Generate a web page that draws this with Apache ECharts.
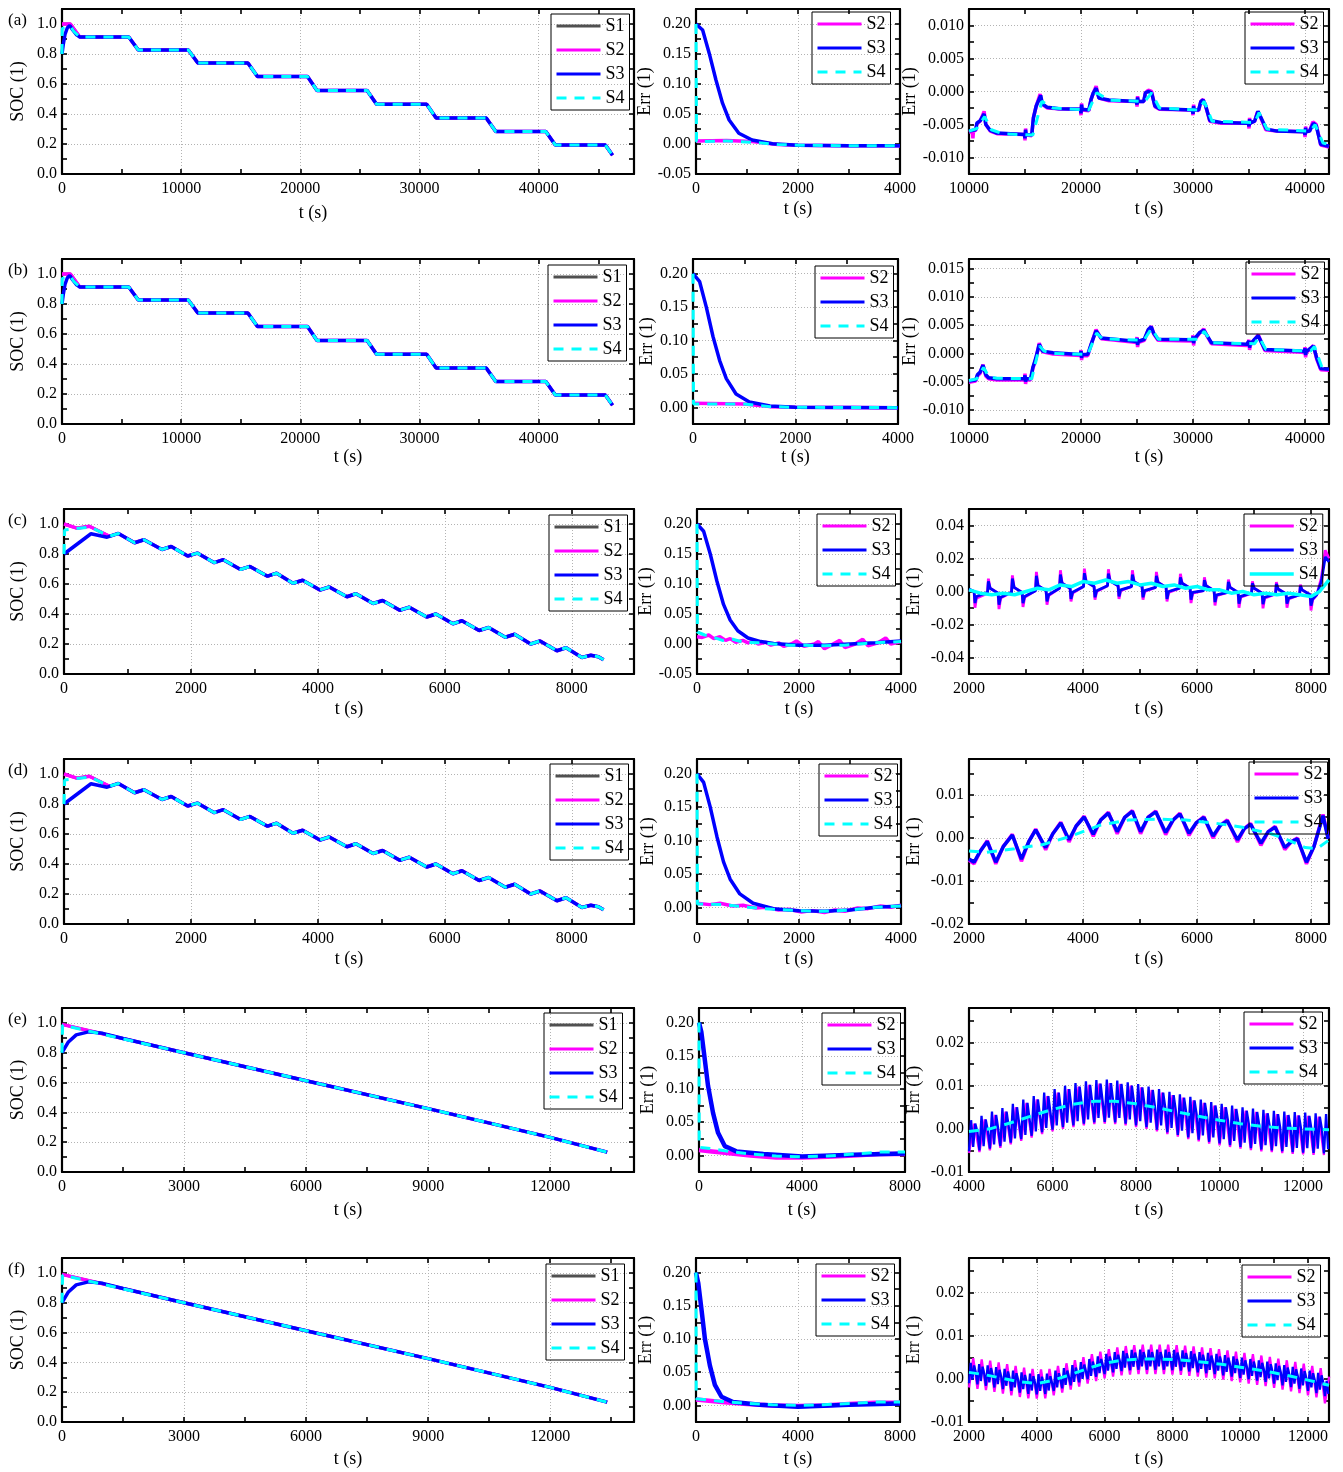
<!DOCTYPE html>
<html lang="en">
<head>
<meta charset="UTF-8">
<title>SOC estimation results</title>
<script src="https://cdn.jsdelivr.net/npm/echarts@6/dist/echarts.min.js"></script>
<style>
  html, body { margin: 0; padding: 0; background: #fff; }
  #chart { width: 1343px; height: 1472px; }
</style>
</head>
<body>
<div id="chart"></div>
<script>
// ---------- SOC (left column) ----------
// staircase profile, rows (a) and (b)
const socAB = [[0,1.0],[700,1.0],[1500,0.913],[5600,0.913],[6400,0.827],[10600,0.827],[11400,0.74],[15600,0.74],[16400,0.65],[20600,0.65],[21400,0.557],[25600,0.557],[26400,0.465],[30600,0.465],[31400,0.373],[35600,0.373],[36400,0.283],[40600,0.283],[41400,0.193],[45600,0.193],[46200,0.125]];
const soc3StartAB = [[0,0.8],[100,0.86],[250,0.93],[450,0.975],[650,0.99],[900,0.96],[1200,0.93],[1500,0.913]];
const soc4StartAB = [[0,0.8],[15,0.97],[300,0.975],[700,0.985],[1000,0.95],[1500,0.913]];
// zig-zag profile, rows (c) and (d)
const socCD = [[0,1.0],[200,0.972],[400,0.985],[717,0.918],[857,0.937],[1111,0.875],[1260,0.895],[1543,0.83],[1690,0.85],[1949,0.787],[2100,0.806],[2368,0.742],[2510,0.762],[2781,0.697],[2930,0.717],[3206,0.652],[3350,0.672],[3606,0.605],[3760,0.625],[4032,0.56],[4180,0.58],[4457,0.515],[4600,0.535],[4870,0.47],[5020,0.49],[5289,0.425],[5440,0.445],[5714,0.38],[5860,0.4],[6127,0.335],[6270,0.355],[6540,0.29],[6690,0.31],[6952,0.245],[7100,0.265],[7352,0.2],[7500,0.22],[7765,0.155],[7910,0.175],[8159,0.11],[8300,0.125],[8420,0.115],[8500,0.095]];
const soc3StartCD = [[0,0.8],[425,0.935],[680,0.912],[857,0.937]];
const soc4StartCD = [[0,0.8],[10,0.96],[413,0.98],[717,0.918]];
// constant discharge, rows (e) and (f)
const socEF = [[0,0.99],[3000,0.8],[6000,0.612],[9000,0.425],[12000,0.232],[13400,0.133]];
const soc3StartEF = [[0,0.8],[150,0.87],[350,0.92],[650,0.94],[1000,0.93],[1500,0.895]];
const soc4StartEF = [[0,0.8],[15,0.985]];

// ---------- Err, first 4000 / 8000 s (middle column) ----------
const errMidA2 = [[0,0.005],[600,0.006],[1100,0.004],[1600,-0.001],[2000,-0.002],[3000,-0.003],[4000,-0.003]];
const errMidA3 = [[0,0.2],[130,0.19],[260,0.151],[390,0.107],[520,0.068],[650,0.04],[840,0.018],[1100,0.0067],[1500,0.0005],[2000,-0.002],[3000,-0.003],[4000,-0.003]];
const errMidA4 = [[0,0.2],[10,0.004],[600,0.005],[1100,0.003],[1600,-0.001],[2000,-0.002],[3000,-0.003],[4000,-0.003]];
const errMidB2 = [[0,0.006],[1000,0.005],[1500,0.001],[2000,0.0],[4000,-0.0005]];
const errMidB3 = [[0,0.2],[130,0.188],[260,0.15],[390,0.106],[520,0.07],[650,0.043],[840,0.02],[1100,0.008],[1500,0.002],[2000,0.0],[4000,-0.0005]];
const errMidB4 = [[0,0.2],[10,0.005],[1000,0.005],[1500,0.001],[2000,0.0],[4000,-0.0005]];
const errMidC2 = [[0,0.012],[100,0.011],[230,0.015],[330,0.009],[450,0.012],[560,0.006],[650,0.009],[760,0.003],[900,0.006],[1000,0.002],[1100,0.005],[1200,0.0],[1350,0.003],[1450,-0.002],[1600,0.002],[1700,-0.004],[1850,0.0],[1950,0.005],[2100,-0.004],[2300,0.0],[2380,0.004],[2500,-0.008],[2650,-0.001],[2800,0.006],[2900,-0.006],[3100,0.0],[3250,0.008],[3350,-0.003],[3550,0.002],[3700,0.01],[3800,0.0],[4000,0.004]];
const errMidC3 = [[0,0.2],[130,0.188],[260,0.15],[390,0.105],[520,0.066],[650,0.04],[800,0.022],[1000,0.01],[1250,0.004],[1500,0.001],[2000,-0.002],[2500,-0.002],[3000,0.0],[3500,0.002],[4000,0.005]];
const errMidC4 = [[0,0.2],[8,0.02],[150,0.015],[300,0.012],[500,0.006],[700,0.008],[900,0.003],[1200,0.002],[1500,0.0],[1800,-0.002],[2100,-0.002],[2500,-0.003],[2900,-0.002],[3300,0.001],[3700,0.003],[4000,0.004]];
const errMidD2 = [[0,0.006],[250,0.004],[450,0.006],[700,0.002],[900,0.003],[1150,-0.001],[1350,0.0],[1600,-0.004],[1800,-0.003],[2050,-0.007],[2250,-0.005],[2500,-0.008],[2700,-0.004],[2900,-0.006],[3150,-0.001],[3350,-0.002],[3600,0.002],[3800,0.0],[4000,0.003]];
const errMidD3 = [[0,0.2],[130,0.187],[260,0.15],[390,0.106],[520,0.068],[650,0.042],[840,0.02],[1100,0.006],[1500,-0.002],[2000,-0.005],[2500,-0.006],[3000,-0.004],[3500,0.0],[4000,0.002]];
const errMidD4 = [[0,0.2],[8,0.005],[500,0.004],[1000,0.0],[1500,-0.003],[2000,-0.005],[2500,-0.006],[3000,-0.004],[3500,0.0],[4000,0.002]];
const errMidE2 = [[0,0.008],[500,0.006],[1000,0.004],[2000,0.0],[3000,-0.003],[4000,-0.003],[5000,-0.002],[6000,0.0],[7000,0.002],[8000,0.002]];
const errMidE3 = [[0,0.2],[90,0.186],[220,0.146],[350,0.105],[545,0.064],[740,0.034],[1000,0.014],[1450,0.006],[2500,0.002],[4000,-0.0015],[6000,0.001],[8000,0.003]];
const errMidE4 = [[0,0.2],[8,0.012],[500,0.01],[1000,0.007],[2000,0.002],[3000,-0.001],[4000,-0.002],[5000,-0.001],[6000,0.002],[7000,0.005],[8000,0.005]];
const errMidF2 = [[0,0.009],[1000,0.005],[2000,0.002],[3000,0.0],[4000,-0.001],[5000,0.0],[6000,0.002],[7000,0.004],[8000,0.004]];
const errMidF3 = [[0,0.2],[90,0.184],[220,0.143],[350,0.1],[545,0.06],[740,0.031],[1000,0.013],[1450,0.005],[2500,0.001],[4000,-0.002],[6000,0.001],[8000,0.003]];
const errMidF4 = [[0,0.2],[8,0.01],[1000,0.006],[2000,0.003],[3000,0.001],[4000,0.0],[5000,0.001],[6000,0.003],[7000,0.005],[8000,0.005]];

// ---------- Err, long run (right column) ----------
const errRightA2 = [[10000,-0.0062],[10300,-0.006],[10350,-0.0071],[10400,-0.006],[10600,-0.0059],[10700,-0.0049],[11000,-0.0045],[11350,-0.003],[11500,-0.005],[11900,-0.006],[12500,-0.0064],[14950,-0.0065],[15000,-0.0074],[15050,-0.0056],[15100,-0.0066],[15600,-0.0067],[15750,-0.004],[16000,-0.0022],[16350,-0.0004],[16500,-0.0019],[17000,-0.0025],[18000,-0.0026],[19950,-0.0027],[20000,-0.0036],[20050,-0.0018],[20100,-0.0028],[20700,-0.0029],[20900,-0.0012],[21100,-0.0002],[21350,0.0008],[21600,-0.001],[22500,-0.0014],[24950,-0.0015],[25000,-0.0023],[25050,-0.0007],[25100,-0.0015],[25600,-0.0015],[25750,-0.0002],[26000,0.0002],[26300,0.0],[26600,-0.0023],[27000,-0.0027],[29950,-0.0028],[30000,-0.0036],[30050,-0.002],[30100,-0.0028],[30500,-0.0029],[30700,-0.0015],[30900,-0.0012],[31100,-0.002],[31500,-0.0045],[32500,-0.0048],[34950,-0.0048],[35000,-0.0056],[35050,-0.004],[35100,-0.0048],[35500,-0.0045],[35750,-0.0031],[36000,-0.0038],[36500,-0.0058],[37500,-0.006],[39950,-0.0061],[40000,-0.0069],[40050,-0.0053],[40100,-0.0061],[40400,-0.006],[40700,-0.0046],[41000,-0.005],[41400,-0.0081],[42140,-0.0084]];
const errRightA3 = [[10000,-0.006],[10600,-0.0058],[10700,-0.0048],[11000,-0.0044],[11350,-0.0034],[11500,-0.005],[11900,-0.0059],[12500,-0.0063],[14950,-0.0065],[15000,-0.0071],[15050,-0.0058],[15100,-0.0065],[15600,-0.0066],[15750,-0.004],[16000,-0.0022],[16400,-0.0006],[16550,-0.0019],[17000,-0.0024],[18000,-0.0026],[19950,-0.0027],[20000,-0.0033],[20050,-0.002],[20100,-0.0027],[20700,-0.0028],[20900,-0.0012],[21100,-0.0002],[21350,0.0005],[21600,-0.001],[22500,-0.0013],[24950,-0.0015],[25000,-0.002],[25050,-0.0009],[25100,-0.0015],[25600,-0.0015],[25750,-0.0002],[26000,0.0],[26300,-0.0002],[26600,-0.0022],[27000,-0.0026],[29950,-0.0028],[30000,-0.0034],[30050,-0.0022],[30100,-0.0028],[30500,-0.0028],[30700,-0.0015],[30900,-0.0013],[31100,-0.002],[31500,-0.0044],[32500,-0.0047],[34950,-0.0048],[35000,-0.0053],[35050,-0.0042],[35100,-0.0048],[35500,-0.0045],[35800,-0.003],[36000,-0.0037],[36550,-0.0057],[37500,-0.006],[39950,-0.0061],[40000,-0.0066],[40050,-0.0055],[40100,-0.0061],[40400,-0.006],[40750,-0.0048],[41000,-0.0052],[41400,-0.008],[42140,-0.0083]];
const errRightA4 = [[10000,-0.006],[10700,-0.0056],[11400,-0.0038],[12000,-0.0058],[13000,-0.0064],[15700,-0.0066],[16500,-0.0015],[17500,-0.0025],[20700,-0.0028],[21400,-0.0002],[22500,-0.0013],[25700,-0.0015],[26300,-0.0002],[27000,-0.0025],[30500,-0.0028],[31000,-0.0015],[31700,-0.0045],[35500,-0.0047],[35900,-0.0032],[36600,-0.0057],[40500,-0.006],[40900,-0.005],[41600,-0.0078],[42140,-0.008]];
const errRightB2 = [[10000,-0.0051],[10600,-0.0049],[10750,-0.004],[11000,-0.0035],[11250,-0.002],[11500,-0.004],[11750,-0.0045],[12500,-0.0047],[14950,-0.0047],[15000,-0.0036],[15050,-0.0054],[15100,-0.0047],[15500,-0.0047],[15700,-0.0027],[15970,-0.001],[16270,0.0018],[16570,0.0003],[17500,-0.0001],[19950,-0.0004],[20000,0.0006],[20050,-0.0012],[20100,-0.0004],[20600,-0.0004],[20900,0.0015],[21340,0.0042],[21800,0.0026],[24600,0.002],[24950,0.0019],[25000,0.0029],[25050,0.0011],[25100,0.0019],[25650,0.0023],[26000,0.0041],[26270,0.0048],[26500,0.0034],[26870,0.0023],[29700,0.0022],[29950,0.0022],[30000,0.0032],[30050,0.0014],[30100,0.0023],[30600,0.0036],[30960,0.0043],[31300,0.0029],[31640,0.0017],[34800,0.0014],[34950,0.0014],[35000,0.0024],[35050,0.0006],[35100,0.0014],[35500,0.0024],[35820,0.0033],[36420,0.0005],[39700,0.0002],[39950,0.0001],[40000,0.0011],[40050,-0.0007],[40100,0.0001],[40750,0.0014],[41040,-0.001],[41400,-0.0029],[42140,-0.003]];
const errRightB3 = [[10000,-0.0049],[10600,-0.0047],[10750,-0.0038],[11000,-0.0033],[11250,-0.0021],[11500,-0.0038],[11750,-0.0043],[12500,-0.0045],[14950,-0.0045],[15000,-0.0039],[15050,-0.005],[15100,-0.0045],[15500,-0.0045],[15700,-0.0025],[15970,-0.0008],[16270,0.0016],[16570,0.0004],[17500,0.0001],[19950,-0.0002],[20000,0.0004],[20050,-0.0008],[20100,-0.0002],[20600,-0.0002],[20900,0.0016],[21340,0.004],[21800,0.0027],[24600,0.0022],[24950,0.0021],[25000,0.0027],[25050,0.0015],[25100,0.0021],[25650,0.0025],[26000,0.0042],[26270,0.0047],[26500,0.0035],[26870,0.0025],[29700,0.0024],[29950,0.0024],[30000,0.003],[30050,0.0018],[30100,0.0025],[30600,0.0037],[30960,0.0041],[31300,0.003],[31640,0.0019],[34800,0.0016],[34950,0.0016],[35000,0.0022],[35050,0.001],[35100,0.0016],[35500,0.0025],[35820,0.0031],[36420,0.0007],[39700,0.0004],[39950,0.0003],[40000,0.0009],[40050,-0.0003],[40100,0.0003],[40750,0.0013],[41040,-0.0008],[41400,-0.0027],[42140,-0.0028]];
const errRightB4 = [[10000,-0.0048],[10700,-0.0045],[11300,-0.0025],[11800,-0.0042],[12500,-0.0044],[15600,-0.0045],[16300,0.0013],[16700,0.0004],[17500,0.0],[20600,-0.0002],[21400,0.0036],[21900,0.0026],[25600,0.0023],[26300,0.0044],[26900,0.0025],[30500,0.0025],[31000,0.0039],[31700,0.0019],[35500,0.0017],[35900,0.0029],[36500,0.0007],[40500,0.0004],[40850,0.0012],[41500,-0.0024],[42140,-0.0028]];
const errRightC2 = [[2000,0.001],[2090,0.0],[2105,-0.0098],[2130,-0.004],[2325,-0.001],
  [2340,0.0078],[2370,0.002],[2510,-0.001],[2526,-0.0107],[2555,-0.004],[2746,-0.0005],
  [2761,0.0098],[2791,0.0025],[2931,-0.0005],[2947,-0.0094],[2976,-0.0035],[3167,0.0005],
  [3182,0.0119],[3212,0.0035],[3352,0.0005],[3368,-0.008],[3397,-0.0025],[3588,0.002],
  [3603,0.0129],[3633,0.005],[3773,0.002],[3789,-0.006],[3818,-0.001],[4009,0.003],
  [4024,0.0139],[4054,0.006],[4194,0.003],[4210,-0.005],[4239,0.0],[4430,0.0035],
  [4445,0.0135],[4475,0.0065],[4615,0.0035],[4631,-0.0045],[4660,0.0005],[4851,0.003],
  [4866,0.0129],[4896,0.006],[5036,0.003],[5052,-0.005],[5081,0.0],[5272,0.0025],
  [5287,0.0119],[5317,0.0055],[5457,0.0025],[5473,-0.006],[5502,-0.0005],[5693,0.002],
  [5708,0.0107],[5738,0.005],[5878,0.002],[5894,-0.007],[5923,-0.001],[6114,0.0005],
  [6129,0.0086],[6159,0.0035],[6299,0.0005],[6315,-0.0085],[6344,-0.0025],[6535,-0.0005],
  [6550,0.0072],[6580,0.0025],[6720,-0.0005],[6736,-0.0098],[6765,-0.0035],[6956,-0.001],
  [6971,0.0062],[7001,0.002],[7141,-0.001],[7157,-0.0102],[7186,-0.004],[7377,-0.0015],
  [7392,0.0057],[7422,0.0015],[7562,-0.0015],[7578,-0.0098],[7607,-0.0045],[7798,-0.002],
  [7813,0.0041],[7843,0.001],[7983,-0.002],[7999,-0.0115],[8028,-0.005],[8100,-0.002],
  [8180,0.008],[8250,0.025],[8315,0.02]];
const errRightC3 = [[2000,0.0015],[2090,0.0],[2105,-0.007],[2130,-0.003],[2325,-0.0005],
  [2340,0.0062],[2370,0.002],[2510,-0.001],[2526,-0.008],[2555,-0.0035],[2746,-0.0005],
  [2761,0.0078],[2791,0.0025],[2931,-0.0005],[2947,-0.007],[2976,-0.003],[3167,0.0005],
  [3182,0.0095],[3212,0.0035],[3352,0.0005],[3368,-0.006],[3397,-0.002],[3588,0.002],
  [3603,0.0103],[3633,0.005],[3773,0.002],[3789,-0.0045],[3818,-0.0005],[4009,0.003],
  [4024,0.0111],[4054,0.006],[4194,0.003],[4210,-0.0035],[4239,0.0005],[4430,0.0035],
  [4445,0.0108],[4475,0.0065],[4615,0.0035],[4631,-0.003],[4660,0.001],[4851,0.003],
  [4866,0.0103],[4896,0.006],[5036,0.003],[5052,-0.0035],[5081,0.0005],[5272,0.0025],
  [5287,0.0095],[5317,0.0055],[5457,0.0025],[5473,-0.0045],[5502,0.0],[5693,0.002],
  [5708,0.0086],[5738,0.005],[5878,0.002],[5894,-0.005],[5923,-0.0005],[6114,0.0005],
  [6129,0.0069],[6159,0.0035],[6299,0.0005],[6315,-0.0064],[6344,-0.002],[6535,-0.0005],
  [6550,0.0058],[6580,0.0025],[6720,-0.0005],[6736,-0.0074],[6765,-0.003],[6956,-0.001],
  [6971,0.005],[7001,0.002],[7141,-0.001],[7157,-0.0077],[7186,-0.0035],[7377,-0.0015],
  [7392,0.0046],[7422,0.0015],[7562,-0.0015],[7578,-0.0074],[7607,-0.004],[7798,-0.002],
  [7813,0.0033],[7843,0.001],[7983,-0.002],[7999,-0.0086],[8028,-0.0045],[8100,-0.002],
  [8180,0.006],[8250,0.021],[8315,0.018]];
const errRightC4 = [[2000,0.001],[2200,-0.001],[2400,-0.002],[2600,-0.001],[2800,-0.002],[3000,0.0],[3200,0.002],[3400,0.001],[3600,0.004],[3800,0.003],[4000,0.006],[4200,0.005],[4400,0.007],[4600,0.005],[4800,0.006],[5000,0.004],[5200,0.005],[5400,0.003],[5600,0.004],[5800,0.002],[6000,0.003],[6200,0.001],[6400,0.001],[6600,-0.001],[6800,0.0],[7000,-0.002],[7200,-0.001],[7400,-0.002],[7600,-0.001],[7800,-0.002],[8000,-0.003],[8150,0.0],[8315,0.007]];
const errRightD2 = [[2000,-0.0052],[2090,-0.006],[2200,-0.003],[2320,-0.0006],[2470,-0.006],[2600,-0.002],[2760,0.0009],[2920,-0.0054],[3050,-0.0008],[3170,0.0021],[3345,-0.0027],[3470,0.001],[3610,0.0037],[3755,-0.0009],[3880,0.0028],[4020,0.0051],[4180,0.0004],[4310,0.0042],[4445,0.006],[4600,0.001],[4730,0.0048],[4865,0.0064],[5010,0.001],[5140,0.0048],[5275,0.0063],[5450,0.0008],[5580,0.0042],[5700,0.0058],[5860,0.0006],[5990,0.0036],[6120,0.005],[6280,0.0],[6410,0.003],[6530,0.0042],[6710,-0.0009],[6830,0.0022],[6940,0.0034],[7120,-0.0017],[7250,0.0015],[7370,0.0027],[7540,-0.0027],[7660,-0.0008],[7760,0.0],[7920,-0.006],[8050,-0.002],[8210,0.0055],[8300,0.0]];
const errRightD3 = [[2000,-0.0049],[2090,-0.0056],[2200,-0.003],[2320,-0.0008],[2470,-0.0056],[2600,-0.002],[2760,0.0007],[2920,-0.0049],[3050,-0.0008],[3170,0.0019],[3345,-0.0022],[3470,0.001],[3610,0.0035],[3755,-0.0004],[3880,0.0028],[4020,0.0049],[4180,0.0009],[4310,0.0042],[4445,0.0058],[4600,0.0015],[4730,0.0048],[4865,0.0062],[5010,0.0015],[5140,0.0048],[5275,0.0061],[5450,0.0013],[5580,0.0042],[5700,0.0056],[5860,0.0011],[5990,0.0036],[6120,0.0048],[6280,0.0005],[6410,0.003],[6530,0.004],[6710,-0.0004],[6830,0.0022],[6940,0.0032],[7120,-0.0012],[7250,0.0015],[7370,0.0025],[7540,-0.0022],[7660,-0.0008],[7760,-0.0002],[7920,-0.0056],[8050,-0.002],[8210,0.0052],[8300,-0.0002]];
const errRightD4 = [[2000,-0.003],[2300,-0.0033],[2800,-0.0025],[3300,-0.0015],[3800,0.0005],[4300,0.003],[4800,0.0042],[5300,0.0044],[5800,0.0042],[6300,0.0035],[6800,0.0025],[7300,0.001],[7600,-0.0005],[7900,-0.0022],[8100,-0.0025],[8300,-0.0006]];

// rows (e) and (f): fast pulses, read as samples every 50 s (S3) and 125 s (S2)
const errRightE_t0 = 4000;
const errRightE3 = [
  -0.0052,0.0020,-0.0042,0.0012,-0.0006, -0.0050,0.0030,-0.0040,0.0022,-0.0004, -0.0046,0.0040,-0.0036,0.0032,0.0000,
  -0.0040,0.0048,-0.0030,0.0040,0.0006, -0.0032,0.0058,-0.0022,0.0050,0.0014, -0.0024,0.0068,-0.0014,0.0060,0.0022,
  -0.0016,0.0076,-0.0006,0.0068,0.0030, -0.0008,0.0084,0.0002,0.0076,0.0038, -0.0002,0.0092,0.0008,0.0084,0.0045,
  0.0004,0.0100,0.0014,0.0092,0.0052, 0.0008,0.0106,0.0018,0.0098,0.0057, 0.0012,0.0110,0.0022,0.0102,0.0061,
  0.0015,0.0113,0.0025,0.0105,0.0064, 0.0016,0.0114,0.0026,0.0106,0.0065, 0.0015,0.0112,0.0025,0.0104,0.0064,
  0.0012,0.0108,0.0022,0.0100,0.0062, 0.0008,0.0104,0.0018,0.0096,0.0058, 0.0004,0.0098,0.0014,0.0090,0.0054,
  -0.0002,0.0092,0.0008,0.0084,0.0049, -0.0008,0.0086,0.0002,0.0078,0.0044, -0.0014,0.0080,-0.0004,0.0072,0.0039,
  -0.0020,0.0074,-0.0010,0.0066,0.0034, -0.0025,0.0068,-0.0015,0.0060,0.0029, -0.0030,0.0062,-0.0020,0.0054,0.0024,
  -0.0034,0.0058,-0.0024,0.0050,0.0020, -0.0038,0.0054,-0.0028,0.0046,0.0016, -0.0042,0.0050,-0.0032,0.0042,0.0012,
  -0.0045,0.0047,-0.0035,0.0039,0.0009, -0.0048,0.0044,-0.0038,0.0036,0.0006, -0.0050,0.0042,-0.0040,0.0034,0.0004,
  -0.0052,0.0040,-0.0042,0.0032,0.0002, -0.0054,0.0039,-0.0044,0.0031,0.0001, -0.0055,0.0038,-0.0045,0.0030,0.0000,
  -0.0056,0.0036,-0.0046,0.0028,-0.0001, -0.0057,0.0034,-0.0047];
const errRightE2 = [
  -0.0056,0.0012, -0.0054,0.0022, -0.0050,0.0032, -0.0044,0.0040, -0.0036,0.0050, -0.0028,0.0060, -0.0020,0.0068,
  -0.0012,0.0076, -0.0006,0.0084, 0.0000,0.0092, 0.0004,0.0098, 0.0008,0.0102, 0.0011,0.0105, 0.0012,0.0106,
  0.0011,0.0104, 0.0008,0.0100, 0.0004,0.0096, 0.0000,0.0090, -0.0006,0.0084, -0.0012,0.0078, -0.0018,0.0072,
  -0.0024,0.0066, -0.0029,0.0060, -0.0034,0.0054, -0.0038,0.0050, -0.0042,0.0046, -0.0046,0.0042, -0.0049,0.0039,
  -0.0052,0.0036, -0.0054,0.0034, -0.0056,0.0032, -0.0058,0.0031, -0.0059,0.0030, -0.0060,0.0028, -0.0061];
const errRightE4 = [[4000,-0.0006],[4500,0.0],[5000,0.0014],[5500,0.003],[6000,0.0045],[6500,0.0057],[7000,0.0064],[7500,0.0064],[8000,0.0058],[8500,0.0049],[9000,0.0039],[9500,0.0029],[10000,0.002],[10500,0.0012],[11000,0.0006],[11500,0.0002],[12000,0.0],[12620,-0.0002]];

const errRightF_t0 = 2000;
const errRightF3 = [
  -0.0010,0.0037,-0.0002,0.0031,0.0015, -0.0013,0.0034,-0.0005,0.0028,0.0012, -0.0016,0.0031,-0.0008,0.0025,0.0009,
  -0.0020,0.0027,-0.0012,0.0021,0.0005, -0.0024,0.0023,-0.0016,0.0017,0.0001, -0.0028,0.0019,-0.0020,0.0013,-0.0003,
  -0.0032,0.0015,-0.0024,0.0009,-0.0007, -0.0035,0.0012,-0.0027,0.0006,-0.0010, -0.0036,0.0011,-0.0028,0.0005,-0.0011,
  -0.0035,0.0012,-0.0027,0.0006,-0.0010, -0.0028,0.0019,-0.0020,0.0013,-0.0003, -0.0022,0.0025,-0.0014,0.0019,0.0003,
  -0.0015,0.0032,-0.0007,0.0026,0.0010, -0.0008,0.0039,0.0000,0.0033,0.0017, -0.0001,0.0046,0.0007,0.0040,0.0024,
  0.0005,0.0052,0.0013,0.0046,0.0030, 0.0011,0.0058,0.0019,0.0052,0.0036, 0.0015,0.0062,0.0023,0.0056,0.0040,
  0.0018,0.0065,0.0026,0.0059,0.0043, 0.0020,0.0067,0.0028,0.0061,0.0045, 0.0021,0.0068,0.0029,0.0062,0.0046,
  0.0021,0.0068,0.0029,0.0062,0.0046, 0.0021,0.0068,0.0029,0.0062,0.0046, 0.0021,0.0068,0.0029,0.0062,0.0046,
  0.0020,0.0067,0.0028,0.0061,0.0045, 0.0019,0.0066,0.0027,0.0060,0.0044, 0.0017,0.0064,0.0025,0.0058,0.0042,
  0.0015,0.0062,0.0023,0.0056,0.0040, 0.0013,0.0060,0.0021,0.0054,0.0038, 0.0011,0.0058,0.0019,0.0052,0.0036,
  0.0008,0.0055,0.0016,0.0049,0.0033, 0.0005,0.0052,0.0013,0.0046,0.0030, 0.0002,0.0049,0.0010,0.0043,0.0027,
  -0.0001,0.0046,0.0007,0.0040,0.0024, -0.0004,0.0043,0.0004,0.0037,0.0021, -0.0007,0.0040,0.0001,0.0034,0.0018,
  -0.0011,0.0036,-0.0003,0.0030,0.0014, -0.0015,0.0032,-0.0007,0.0026,0.0010, -0.0019,0.0028,-0.0011,0.0022,0.0006,
  -0.0023,0.0024,-0.0015,0.0018,0.0002, -0.0028,0.0019,-0.0020,0.0013,-0.0003, -0.0033,0.0014,-0.0025,0.0008,-0.0008,
  -0.0040,-0.0005,-0.0035];
const errRightF2 = [
  -0.0020,0.0048, -0.0023,0.0045, -0.0026,0.0042, -0.0030,0.0038, -0.0034,0.0034, -0.0038,0.0030, -0.0042,0.0026,
  -0.0045,0.0023, -0.0046,0.0022, -0.0045,0.0023, -0.0038,0.0030, -0.0032,0.0036, -0.0025,0.0043, -0.0018,0.0050,
  -0.0011,0.0057, -0.0005,0.0063, 0.0001,0.0069, 0.0005,0.0073, 0.0008,0.0076, 0.0010,0.0078, 0.0011,0.0079,
  0.0011,0.0079, 0.0011,0.0079, 0.0011,0.0079, 0.0010,0.0078, 0.0009,0.0077, 0.0007,0.0075, 0.0005,0.0073,
  0.0003,0.0071, 0.0001,0.0069, -0.0002,0.0066, -0.0005,0.0063, -0.0008,0.0060, -0.0011,0.0057, -0.0014,0.0054,
  -0.0017,0.0051, -0.0021,0.0047, -0.0025,0.0043, -0.0029,0.0039, -0.0033,0.0035, -0.0038,0.0030, -0.0043,0.0025,
  -0.0057,0.0005];
const errRightF4 = [[2000,0.0015],[2500,0.0009],[3000,0.0001],[3500,-0.0007],[4000,-0.0011],[4500,-0.0003],[5000,0.001],[5500,0.0024],[6000,0.0036],[6500,0.0043],[7000,0.0046],[7500,0.0046],[8000,0.0045],[8500,0.0042],[9000,0.0038],[9500,0.0033],[10000,0.0027],[10500,0.0021],[11000,0.0014],[11500,0.0006],[12000,-0.0003],[12620,-0.0015]];

// ---------- helpers ----------
const FONT = 'Liberation Serif';
const GRID = '#b3b3b3';

function joinAfter(start, base) {
  const last = start[start.length - 1][0];
  return start.concat(base.filter(p => p[0] > last));
}
function sampled(t0, dt, vals) {
  return vals.map((v, i) => [t0 + i * dt, v]);
}
function isMult(v, s) {
  const r = v / s;
  return Math.abs(r - Math.round(r)) < 1e-6;
}
function fmt(v, dec) {
  if (Math.abs(v) < 1e-9) v = 0;
  return dec ? v.toFixed(dec) : String(Math.round(v));
}

const STYLE = {
  S1: { color: '#505050', width: 3, type: 'solid' },
  S2: { color: '#ff00ff', width: 3.5, type: 'solid' },
  S3: { color: '#0000ff', width: 3.5, type: 'solid' },
  S4: { color: '#00ffff', width: 3, type: [10, 8] }
};

// axes ranges: min, max, tick step, label step, decimals
const xL48 = { min: 0, max: 48000, step: 5000, lab: 10000, dec: 0 };
const xL9 = { min: 0, max: 8980, step: 1000, lab: 2000, dec: 0 };
const xL14 = { min: 0, max: 14060, step: 1500, lab: 3000, dec: 0 };
const xM4 = { min: 0, max: 4000, step: 1000, lab: 2000, dec: 0 };
const xM8 = { min: 0, max: 8000, step: 2000, lab: 4000, dec: 0 };
const xR42 = { min: 10000, max: 42140, step: 5000, lab: 10000, dec: 0 };
const xR83 = { min: 2000, max: 8315, step: 1000, lab: 2000, dec: 0 };
const xRE = { min: 4000, max: 12620, step: 1000, lab: 2000, dec: 0 };
const xRF = { min: 2000, max: 12620, step: 1000, lab: 2000, dec: 0 };
const ySoc = { min: 0, max: 1.1, step: 0.1, lab: 0.2, dec: 1 };
const yM05 = { min: -0.05, max: 0.225, step: 0.025, lab: 0.05, dec: 2 };
const yM025 = { min: -0.025, max: 0.222, step: 0.025, lab: 0.05, dec: 2 };
const yRA = { min: -0.0125, max: 0.0125, step: 0.0025, lab: 0.005, dec: 3 };
const yRB = { min: -0.0125, max: 0.0167, step: 0.0025, lab: 0.005, dec: 3 };
const yRC = { min: -0.05, max: 0.05, step: 0.01, lab: 0.02, dec: 2 };
const yRD = { min: -0.02, max: 0.0184, step: 0.005, lab: 0.01, dec: 2 };
const yREF = { min: -0.01, max: 0.028, step: 0.005, lab: 0.01, dec: 2 };

function socSeries(base, s3, s4) {
  return [
    { name: 'S1', data: base },
    { name: 'S2', data: base },
    { name: 'S3', data: joinAfter(s3, base) },
    { name: 'S4', data: joinAfter(s4, base) }
  ];
}
function errSeries(d2, d3, d4, w, w4, solid4) {
  return [
    { name: 'S2', data: d2, width: w },
    { name: 'S3', data: d3, width: w },
    { name: 'S4', data: d4, width: w4, solid: solid4 }
  ];
}

const panels = [
  { letter: '(a)', box: [62, 9, 572, 165], x: xL48, y: ySoc, yName: 'SOC (1)', xGap: 30, yGap: 35, leg: [551, 14], xShift: 70,
    series: socSeries(socAB, soc3StartAB, soc4StartAB) },
  { box: [696, 9, 204, 165], x: xM4, y: yM05, yName: 'Err (1)', xGap: 26, yGap: 37, leg: [812, 12],
    series: errSeries(errMidA2, errMidA3, errMidA4) },
  { box: [969, 9, 360, 165], x: xR42, y: yRA, yName: 'Err (1)', xGap: 26, yGap: 46, leg: [1245, 12],
    series: errSeries(errRightA2, errRightA3, errRightA4) },

  { letter: '(b)', box: [62, 259, 572, 165], x: xL48, y: ySoc, yName: 'SOC (1)', xGap: 22, yGap: 35, leg: [548, 265],
    series: socSeries(socAB, soc3StartAB, soc4StartAB) },
  { box: [693, 259, 205, 165], x: xM4, y: yM025, yName: 'Err (1)', xGap: 22, yGap: 37, leg: [815, 266],
    series: errSeries(errMidB2, errMidB3, errMidB4) },
  { box: [969, 259, 360, 165], x: xR42, y: yRB, yName: 'Err (1)', xGap: 22, yGap: 46, leg: [1246, 262],
    series: errSeries(errRightB2, errRightB3, errRightB4) },

  { letter: '(c)', box: [64, 509, 570, 165], x: xL9, y: ySoc, yName: 'SOC (1)', xGap: 26, yGap: 37, leg: [549, 515],
    series: socSeries(socCD, soc3StartCD, soc4StartCD) },
  { box: [697, 509, 204, 165], x: xM4, y: yM05, yName: 'Err (1)', xGap: 26, yGap: 40, leg: [817, 514],
    series: errSeries(errMidC2, errMidC3, errMidC4) },
  { box: [969, 509, 360, 165], x: xR83, y: yRC, yName: 'Err (1)', xGap: 26, yGap: 46, leg: [1244, 514],
    series: errSeries(errRightC2, errRightC3, errRightC4, 2.8, 3.5, true) },

  { letter: '(d)', box: [64, 759, 570, 165], x: xL9, y: ySoc, yName: 'SOC (1)', xGap: 26, yGap: 37, leg: [550, 764],
    series: socSeries(socCD, soc3StartCD, soc4StartCD) },
  { box: [697, 759, 204, 165], x: xM4, y: yM025, yName: 'Err (1)', xGap: 26, yGap: 40, leg: [819, 764],
    series: errSeries(errMidD2, errMidD3, errMidD4) },
  { box: [969, 759, 360, 165], x: xR83, y: yRD, yName: 'Err (1)', xGap: 26, yGap: 46, leg: [1249, 762],
    series: errSeries(errRightD2, errRightD3, errRightD4) },

  { letter: '(e)', box: [62, 1008, 572, 164], x: xL14, y: ySoc, yName: 'SOC (1)', xGap: 29, yGap: 35, leg: [544, 1013],
    series: socSeries(socEF, soc3StartEF, soc4StartEF) },
  { box: [699, 1008, 206, 164], x: xM8, y: yM025, yName: 'Err (1)', xGap: 29, yGap: 42, leg: [822, 1013],
    series: errSeries(errMidE2, errMidE3, errMidE4, 4.5) },
  { box: [969, 1008, 360, 164], x: xRE, y: yREF, yName: 'Err (1)', xGap: 29, yGap: 46, leg: [1244, 1012],
    series: errSeries(sampled(errRightE_t0, 125, errRightE2), sampled(errRightE_t0, 50, errRightE3), errRightE4, 2.3) },

  { letter: '(f)', box: [62, 1258, 572, 164], x: xL14, y: ySoc, yName: 'SOC (1)', xGap: 28, yGap: 35, leg: [546, 1264],
    series: socSeries(socEF, soc3StartEF, soc4StartEF) },
  { box: [696, 1258, 204, 164], x: xM8, y: yM025, yName: 'Err (1)', xGap: 28, yGap: 41, leg: [816, 1264],
    series: errSeries(errMidF2, errMidF3, errMidF4, 4.5) },
  { box: [969, 1258, 360, 164], x: xRF, y: yREF, yName: 'Err (1)', xGap: 28, yGap: 46, leg: [1242, 1265],
    series: errSeries(sampled(errRightF_t0, 125, errRightF2), sampled(errRightF_t0, 50, errRightF3), errRightF4, 2.3) }
];

function makeAxis(gi, pos, a, main, name, gap, shift) {
  const firstOn = isMult(a.min, a.lab);
  const clear = 'rgba(0,0,0,0)';
  return {
    type: 'value', gridIndex: gi, position: pos,
    min: a.min, max: a.max, interval: a.step,
    axisLine: { show: true, onZero: false, lineStyle: { color: '#000', width: 2.2 } },
    axisTick: { show: true, inside: true, length: 5, lineStyle: { color: '#000', width: 1.6 } },
    axisLabel: {
      show: main, margin: (pos === 'bottom') ? 7 : 5,
      fontFamily: FONT, fontSize: 16, color: '#000',
      formatter: v => isMult(v, a.lab) ? fmt(v, a.dec) : ''
    },
    splitLine: {
      show: main,
      lineStyle: { color: firstOn ? [GRID, clear] : [clear, GRID], type: [1, 2], width: 1 }
    },
    name: main ? name : '', nameLocation: 'middle', nameGap: gap,
    nameTextStyle: { fontFamily: FONT, fontSize: 18, color: '#000', padding: [0, shift || 0, 0, 0] }
  };
}

const grids = [], xAxes = [], yAxes = [], series = [], legends = [], graphics = [];
panels.forEach((p, i) => {
  grids.push({ left: p.box[0], top: p.box[1], width: p.box[2], height: p.box[3] });
  xAxes.push(makeAxis(i, 'bottom', p.x, true, 't (s)', p.xGap, p.xShift));
  xAxes.push(makeAxis(i, 'top', p.x, false));
  yAxes.push(makeAxis(i, 'left', p.y, true, p.yName, p.yGap));
  yAxes.push(makeAxis(i, 'right', p.y, false));
  p.series.forEach(s => {
    const st = STYLE[s.name];
    series.push({
      type: 'line', name: s.name, xAxisIndex: 2 * i, yAxisIndex: 2 * i,
      data: s.data, symbol: 'none', silent: true,
      lineStyle: { color: st.color, width: s.width || st.width, type: s.solid ? 'solid' : st.type },
      itemStyle: { color: st.color }
    });
  });
  legends.push({
    orient: 'vertical', left: p.leg[0], top: p.leg[1],
    data: p.series.map(s => s.solid ? { name: s.name, lineStyle: { type: 'solid', width: 3.5 } } : s.name),
    itemWidth: 44, itemHeight: 16, itemGap: 6,
    padding: [3, 5, 3, 4],
    borderColor: '#000', borderWidth: 1, borderRadius: 0,
    backgroundColor: 'rgba(0,0,0,0)',
    selectedMode: false,
    itemStyle: { opacity: 0 },
    lineStyle: { width: 3 },
    textStyle: { fontFamily: FONT, fontSize: 18, color: '#000' }
  });
  if (p.letter) {
    graphics.push({
      type: 'text', left: 8, top: p.box[1] + 3,
      style: { text: p.letter, font: '17px "Liberation Serif"', fill: '#000' }
    });
  }
});

const chart = echarts.init(document.getElementById('chart'), null, { renderer: 'canvas' });
chart.setOption({
  animation: false,
  backgroundColor: '#fff',
  textStyle: { fontFamily: FONT },
  grid: grids,
  xAxis: xAxes,
  yAxis: yAxes,
  legend: legends,
  series: series,
  graphic: graphics
});
</script>
</body>
</html>
